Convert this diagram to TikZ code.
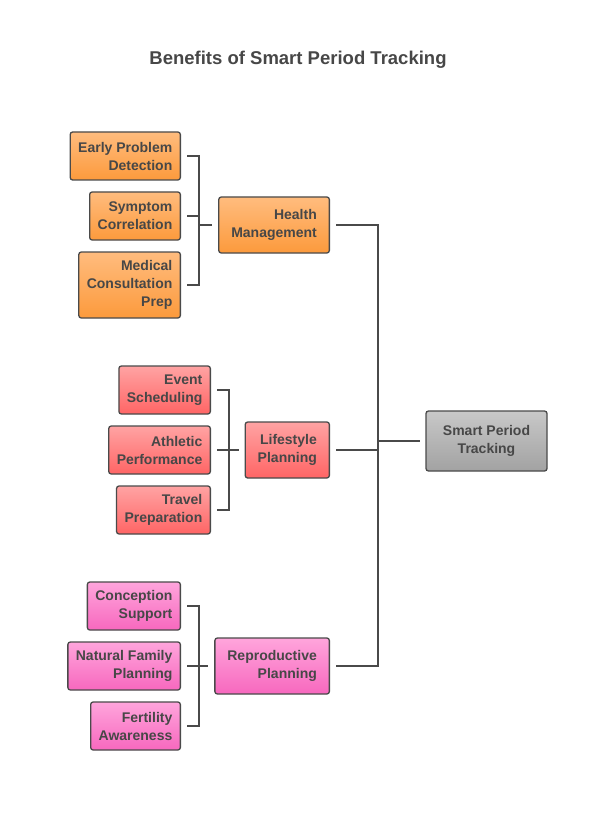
\documentclass[tikz,border=0pt]{standalone}
\usepackage{fontspec}
\setmainfont{Liberation Sans}
\definecolor{ink}{HTML}{4A4A4A}
\definecolor{txt}{HTML}{474747}
\definecolor{orgtop}{HTML}{FFBC7E}
\definecolor{orgbot}{HTML}{FC9A3C}
\definecolor{redtop}{HTML}{FFA3A3}
\definecolor{redbot}{HTML}{FF6565}
\definecolor{pnktop}{HTML}{FFA5DC}
\definecolor{pnkbot}{HTML}{F768BE}
\definecolor{grytop}{HTML}{C8C8C8}
\definecolor{grybot}{HTML}{A2A2A2}
\begin{document}
\begin{tikzpicture}[x=1pt, y=-1pt,
		box/.style = {draw=ink, line width=1.3pt, rounded corners=2.5pt, inner xsep=8pt, inner ysep=0pt, align=right, text=txt, font=\fontsize{14}{18}\selectfont\bfseries},
		mid/.style = {inner xsep=12.5pt, minimum height=56pt, anchor=east},
		health/.style = {box, top color=orgtop, bottom color=orgbot},
		life/.style = {box, top color=redtop, bottom color=redbot},
		repro/.style = {box, top color=pnktop, bottom color=pnkbot},
		link/.style = {draw=ink, line width=1.5pt}]
		\useasboundingbox (0,0) rectangle (596,834);
		\node (title) at (298,60) {\fontsize{18.5}{22}\selectfont\bfseries\color{txt}Benefits of Smart Period Tracking};
		% root
		\node [box, align=center, minimum width=121pt, minimum height=60pt, top color=grytop, bottom color=grybot] (spt) at (486.5,441) {Smart Period\\Tracking};
		% health
		\node [health, mid] (hm) at (330,225) {Health\\Management};
		\node [health, anchor=east, minimum height=48pt] (epd) at (181,156) {Early Problem\\Detection};
		\node [health, anchor=east, minimum height=48pt] (sc) at (181,216) {Symptom\\Correlation};
		\node [health, anchor=east, minimum height=66pt] (mcp) at (181,285) {Medical\\Consultation\\Prep};
		% lifestyle
		\node [life, mid] (lp) at (330,450) {Lifestyle\\Planning};
		\node [life, anchor=east, minimum height=48pt] (es) at (211,390) {Event\\Scheduling};
		\node [life, anchor=east, minimum height=48pt] (ap) at (211,450) {Athletic\\Performance};
		\node [life, anchor=east, minimum height=48pt] (tp) at (211,510) {Travel\\Preparation};
		% reproductive
		\node [repro, mid] (rp) at (330,666) {Reproductive\\Planning};
		\node [repro, anchor=east, minimum height=48pt] (cs) at (181,606) {Conception\\Support};
		\node [repro, anchor=east, minimum height=48pt] (nfp) at (181,666) {Natural Family\\Planning};
		\node [repro, anchor=east, minimum height=48pt] (fa) at (181,726) {Fertility\\Awareness};
		% buses
		\coordinate (hbus) at (199,225);
		\coordinate (lbus) at (229,450);
		\coordinate (rbus) at (199,666);
		\coordinate (trunk) at (378,441);
		\foreach \leaf in {epd,sc,mcp} \draw [link] ([xshift=6pt]\leaf.east) -| (hbus);
		\foreach \leaf in {es,ap,tp} \draw [link] ([xshift=6pt]\leaf.east) -| (lbus);
		\foreach \leaf in {cs,nfp,fa} \draw [link] ([xshift=6pt]\leaf.east) -| (rbus);
		\draw [link] (hbus) -- ([xshift=-6pt]hm.west);
		\draw [link] (lbus) -- ([xshift=-6pt]lp.west);
		\draw [link] (rbus) -- ([xshift=-6pt]rp.west);
		\foreach \mid in {hm,lp,rp} \draw [link] ([xshift=6pt]\mid.east) -| (trunk);
		\draw [link] (trunk) -- ([xshift=-5pt]spt.west);
	\end{tikzpicture}
\end{document}
